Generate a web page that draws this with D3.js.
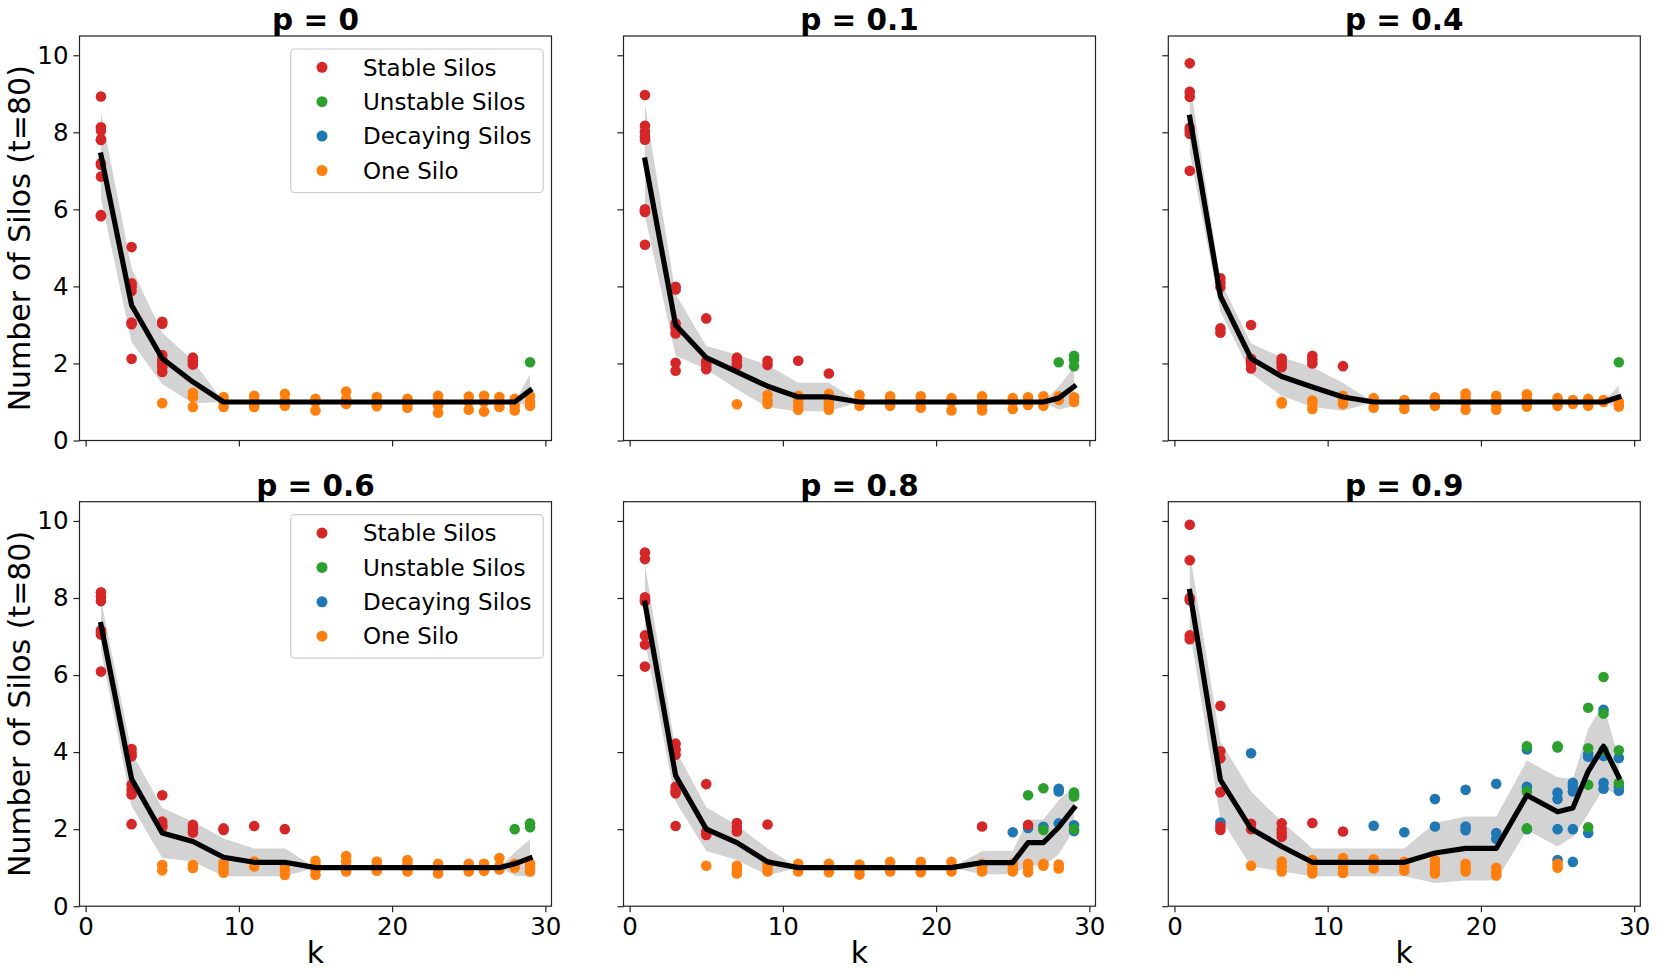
<html>
<head>
<meta charset="utf-8">
<title>Number of Silos</title>
<style>
  body { margin: 0; background: #fff; }
  svg { font-family: "DejaVu Sans", sans-serif; }
</style>
</head>
<body>
<svg width="1658" height="977"></svg>
<script src="https://d3js.org/d3.v7.min.js"></script>
<script>
// k values at which the mean line / band are evaluated
var kValues = [1, 3, 5, 7, 9, 11, 13, 15, 17, 19, 21, 23, 25, 26, 27, 28, 29];
var titles = ["p = 0", "p = 0.1", "p = 0.4", "p = 0.6", "p = 0.8", "p = 0.9"];
var categories = ["Stable Silos", "Unstable Silos", "Decaying Silos", "One Silo"];
var catKeys = ["S", "U", "D", "O"];
var catColors = ["#d62728", "#2ca02c", "#1f77b4", "#ff7f0e"];
var drawOrder = ["D", "O", "S", "U"];
var xTicks = [0, 10, 20, 30];
var yTicks = [0, 2, 4, 6, 8, 10];

// mean and std of the number of silos per k
var meanP0 = [7.41, 3.51, 2.13, 1.52, 1.0, 1.0, 1.0, 1.0, 1.0, 1.0, 1.0, 1.0, 1.0, 1.0, 1.0, 1.0, 1.3];
var sdP0 = [1.12, 0.96, 0.67, 0.55, 0, 0, 0, 0, 0, 0, 0, 0, 0, 0, 0, 0, 0.42];
var meanP01 = [7.28, 3.0, 2.15, 1.78, 1.41, 1.13, 1.13, 1.0, 1.0, 1.0, 1.0, 1.0, 1.0, 1.0, 1.0, 1.1, 1.4];
var sdP01 = [1.45, 0.8, 0.3, 0.45, 0.55, 0.37, 0.37, 0, 0, 0, 0, 0, 0, 0, 0, 0.3, 0.5];
var meanP04 = [8.39, 3.75, 2.13, 1.66, 1.39, 1.13, 1.0, 1.0, 1.0, 1.0, 1.0, 1.0, 1.0, 1.0, 1.0, 1.0, 1.13];
var sdP04 = [0.93, 0.4, 0.39, 0.5, 0.52, 0.36, 0, 0, 0, 0, 0, 0, 0, 0, 0, 0, 0.3];
var meanP06 = [7.31, 3.3, 1.9, 1.68, 1.27, 1.14, 1.14, 1.0, 1.0, 1.0, 1.0, 1.0, 1.0, 1.0, 1.0, 1.1, 1.25];
var sdP06 = [0.65, 0.7, 0.65, 0.52, 0.49, 0.36, 0.36, 0, 0, 0, 0, 0, 0, 0, 0, 0.3, 0.48];
var meanP08 = [7.87, 3.39, 2.0, 1.65, 1.15, 1.0, 1.0, 1.0, 1.0, 1.0, 1.0, 1.13, 1.13, 1.65, 1.65, 2.05, 2.55];
var sdP08 = [1.0, 0.67, 0.57, 0.45, 0.35, 0, 0, 0, 0, 0, 0, 0.3, 0.3, 0.6, 0.6, 0.7, 0.55];
var meanP09 = [8.17, 3.28, 2.01, 1.55, 1.14, 1.14, 1.14, 1.14, 1.38, 1.5, 1.5, 2.88, 2.45, 2.55, 3.5, 4.15, 3.35];
var sdP09 = [1.0, 1.0, 0.97, 0.65, 0.36, 0.36, 0.36, 0.36, 0.78, 0.83, 0.83, 0.9, 0.9, 0.75, 1.1, 1.1, 0.45];

// scatter points: [category, k, values]
var pointsP0 = [
  ["S", 1, [8.93, 8.13, 8.05, 7.82, 7.8, 7.2, 7.15, 6.85, 5.85, 5.82]],
  ["S", 3, [5.02, 4.08, 4.0, 3.88, 3.06, 3.02, 2.12]],
  ["S", 5, [3.08, 3.03, 2.22, 2.1, 2.0, 1.9, 1.78]],
  ["O", 5, [0.97]],
  ["S", 7, [2.15, 2.08, 2.02, 1.97]],
  ["O", 7, [1.24, 1.13, 0.87]],
  ["O", 9, [1.13, 1.0, 0.87]],
  ["O", 11, [1.16, 1.04, 0.92, 0.87]],
  ["O", 13, [1.21, 1.04, 0.9]],
  ["O", 15, [1.08, 1.0, 0.78]],
  ["O", 17, [1.27, 1.08, 0.95]],
  ["O", 19, [1.13, 1.0, 0.89]],
  ["O", 21, [1.08, 0.95, 0.85]],
  ["O", 23, [1.16, 1.04, 0.91, 0.72]],
  ["O", 25, [1.14, 1.0, 0.8]],
  ["O", 26, [1.16, 1.0, 0.75]],
  ["O", 27, [1.13, 1.0, 0.87]],
  ["O", 28, [1.08, 0.91, 0.78]],
  ["O", 29, [1.15, 1.0, 0.9]],
  ["U", 29, [2.03]]
];
var pointsP01 = [
  ["S", 1, [8.97, 8.17, 8.02, 7.9, 7.81, 6.0, 5.95, 5.93, 5.08]],
  ["S", 3, [3.99, 3.92, 3.04, 2.93, 2.78, 2.02, 1.81]],
  ["S", 5, [3.17, 2.06, 2.0, 1.92, 1.85]],
  ["S", 7, [2.15, 2.08, 2.0, 1.95]],
  ["O", 7, [0.94]],
  ["S", 9, [2.07, 1.96]],
  ["O", 9, [1.18, 1.05, 0.95]],
  ["S", 11, [2.07]],
  ["O", 11, [1.16, 1.02, 0.89, 0.8]],
  ["S", 13, [1.74]],
  ["O", 13, [1.21, 1.1, 1.0, 0.9, 0.8]],
  ["O", 15, [1.18, 1.05, 0.9]],
  ["O", 17, [1.15, 1.05, 0.9]],
  ["O", 19, [1.15, 1.0, 0.85]],
  ["O", 21, [1.1, 1.0, 0.78]],
  ["O", 23, [1.15, 1.02, 0.9, 0.78]],
  ["O", 25, [1.1, 1.0, 0.82]],
  ["O", 26, [1.12, 1.02, 0.92]],
  ["O", 27, [1.15, 1.0, 0.9]],
  ["O", 28, [1.15, 1.05]],
  ["U", 28, [2.03]],
  ["O", 29, [1.12, 1.0]],
  ["U", 29, [2.2, 2.1, 1.93]]
];
var pointsP04 = [
  ["S", 1, [9.79, 9.05, 8.92, 8.12, 8.05, 7.96, 7.0]],
  ["S", 3, [4.21, 4.1, 3.98, 2.91, 2.8]],
  ["S", 5, [3.0, 2.12, 2.05, 2.0, 1.87]],
  ["S", 7, [2.13, 2.05, 2.0, 1.9]],
  ["O", 7, [1.0, 0.96]],
  ["S", 9, [2.2, 2.1, 2.0]],
  ["O", 9, [1.04, 0.95, 0.82]],
  ["S", 11, [1.93]],
  ["O", 11, [1.16, 1.05, 0.95]],
  ["O", 13, [1.1, 1.0, 0.85]],
  ["O", 15, [1.05, 0.95, 0.82]],
  ["O", 17, [1.12, 1.0, 0.9]],
  ["O", 19, [1.22, 1.1, 0.98, 0.8]],
  ["O", 21, [1.16, 1.04, 0.92, 0.8]],
  ["O", 23, [1.2, 1.08, 0.96, 0.88]],
  ["O", 25, [1.1, 1.0, 0.9]],
  ["O", 26, [1.05, 0.95]],
  ["O", 27, [1.08, 0.9]],
  ["O", 28, [1.05, 1.0]],
  ["O", 29, [1.0, 0.88]],
  ["U", 29, [2.03]]
];
var pointsP06 = [
  ["S", 1, [8.15, 8.04, 7.92, 7.16, 7.1, 7.05, 6.09]],
  ["S", 3, [4.08, 3.97, 3.89, 3.15, 3.02, 2.9, 2.13]],
  ["S", 5, [2.88, 2.2, 2.1, 2.05]],
  ["O", 5, [1.07, 0.93]],
  ["S", 7, [2.11, 2.02, 1.91]],
  ["O", 7, [1.07, 0.99]],
  ["S", 9, [2.02, 1.98]],
  ["O", 9, [1.12, 1.03, 0.94, 0.87]],
  ["S", 11, [2.08]],
  ["O", 11, [1.16, 1.03]],
  ["S", 13, [2.0]],
  ["O", 13, [1.07, 0.94, 0.81]],
  ["O", 15, [1.18, 1.07, 0.94, 0.81]],
  ["O", 17, [1.3, 1.16, 1.03, 0.9]],
  ["O", 19, [1.16, 1.05, 0.92]],
  ["O", 21, [1.2, 1.1, 1.0, 0.9]],
  ["O", 23, [1.1, 1.0, 0.85]],
  ["O", 25, [1.1, 1.0, 0.9]],
  ["O", 26, [1.1, 1.0, 0.92]],
  ["O", 27, [1.25, 1.05, 0.95]],
  ["O", 28, [1.1, 1.0]],
  ["U", 28, [2.0]],
  ["O", 29, [1.1, 1.0, 0.9]],
  ["U", 29, [2.15, 2.05]]
];
var pointsP08 = [
  ["S", 1, [9.18, 9.01, 8.02, 7.95, 7.91, 7.03, 6.79, 6.22]],
  ["S", 3, [4.22, 4.07, 3.93, 3.1, 3.0, 2.93, 2.08]],
  ["S", 5, [3.17, 1.94, 1.85]],
  ["O", 5, [1.05]],
  ["S", 7, [2.16, 2.04, 1.94]],
  ["O", 7, [1.05, 0.95, 0.85]],
  ["S", 9, [2.12]],
  ["O", 9, [1.1, 1.0, 0.9]],
  ["O", 11, [1.1, 1.0, 0.9]],
  ["O", 13, [1.1, 1.0, 0.88]],
  ["O", 15, [1.08, 0.95, 0.82]],
  ["O", 17, [1.15, 1.02, 0.9]],
  ["O", 19, [1.15, 1.0, 0.88]],
  ["O", 21, [1.15, 1.0, 0.9]],
  ["S", 23, [2.07]],
  ["O", 23, [1.1, 1.0, 0.9]],
  ["D", 25, [1.92]],
  ["O", 25, [1.1, 1.0, 0.9]],
  ["D", 26, [2.03]],
  ["S", 26, [2.11]],
  ["U", 26, [2.88]],
  ["O", 26, [1.1, 1.0, 0.88]],
  ["D", 27, [2.06]],
  ["U", 27, [3.06, 1.98]],
  ["O", 27, [1.1, 1.05]],
  ["D", 28, [3.05, 2.98, 2.15]],
  ["O", 28, [1.08, 0.98]],
  ["D", 29, [2.9, 2.1, 1.95]],
  ["U", 29, [2.95, 2.85, 2.0]]
];
var pointsP09 = [
  ["S", 1, [9.9, 8.98, 8.0, 7.94, 7.03, 6.93]],
  ["D", 3, [2.17]],
  ["S", 3, [5.2, 4.02, 3.84, 2.96, 2.07, 1.98]],
  ["D", 5, [3.97]],
  ["S", 5, [2.14, 2.0]],
  ["O", 5, [1.05]],
  ["S", 7, [2.15, 2.0, 1.9, 1.8]],
  ["O", 7, [1.16, 1.03, 0.9]],
  ["S", 9, [2.16]],
  ["O", 9, [1.2, 1.08, 0.95, 0.85]],
  ["S", 11, [1.94]],
  ["O", 11, [1.25, 1.12, 1.0, 0.86]],
  ["D", 13, [2.09]],
  ["O", 13, [1.22, 1.1, 0.98]],
  ["D", 15, [1.92]],
  ["O", 15, [1.15, 1.05, 0.92]],
  ["D", 17, [2.78, 2.07]],
  ["O", 17, [1.2, 1.08, 0.95, 0.85]],
  ["D", 19, [3.02, 2.07, 1.97]],
  ["O", 19, [1.1, 1.0, 0.9]],
  ["D", 21, [3.18, 1.9, 1.75]],
  ["O", 21, [1.0, 0.88, 0.8]],
  ["D", 23, [4.07, 3.1, 2.0]],
  ["U", 23, [4.15, 2.98, 2.02]],
  ["D", 25, [2.95, 2.78, 2.0, 1.2]],
  ["U", 25, [4.15, 4.12]],
  ["O", 25, [1.1, 1.0]],
  ["D", 26, [3.2, 3.1, 2.98, 2.0, 1.15]],
  ["D", 27, [3.95, 3.88, 1.9]],
  ["U", 27, [5.15, 4.1, 3.15, 2.05]],
  ["D", 28, [5.1, 3.9, 3.2, 3.05]],
  ["U", 28, [5.95, 5.0, 4.05]],
  ["D", 29, [3.85, 3.1, 3.0]],
  ["U", 29, [4.05, 3.2]]
];

var means = [meanP0, meanP01, meanP04, meanP06, meanP08, meanP09];
var sds = [sdP0, sdP01, sdP04, sdP06, sdP08, sdP09];
var points = [pointsP0, pointsP01, pointsP04, pointsP06, pointsP08, pointsP09];

// layout
var colLeft = [79.5, 623.5, 1168.3];
var rowTop = [36, 501.7];
var pw = 472, ph = 404.5;

var svg = d3.select('svg');
svg.append('rect').attr('width', 1658).attr('height', 977).attr('fill', '#fff');

function drawPanel(i) {
    var row = Math.floor(i / 3), col = i % 3;
    var x0 = colLeft[col], y0 = rowTop[row];
    var x = d3.scaleLinear().domain([-0.4, 30.4]).range([x0, x0 + pw]);
    var y = d3.scaleLinear().domain([0, 10.5]).range([y0 + ph, y0]);
    var g = svg.append('g');

    var rows = kValues.map(function (k, j) { return {k: k, m: means[i][j], s: sds[i][j]}; });

    // std band
    var area = d3.area()
        .x(function (d) { return x(d.k); })
        .y0(function (d) { return y(d.m - d.s); })
        .y1(function (d) { return y(d.m + d.s); });
    g.append('path').datum(rows).attr('d', area).attr('fill', '#d3d3d3');

    // scatter
    var flat = [];
    drawOrder.forEach(function (c) {
        points[i].forEach(function (p) {
            if (p[0] !== c) return;
            p[2].forEach(function (v) { flat.push({c: c, k: p[1], v: v}); });
        });
    });
    g.selectAll('circle.pt').data(flat).enter().append('circle')
        .attr('class', 'pt')
        .attr('cx', function (d) { return x(d.k); })
        .attr('cy', function (d) { return y(d.v); })
        .attr('r', 5.3)
        .attr('fill', function (d) { return catColors[catKeys.indexOf(d.c)]; });

    // mean line
    var line = d3.line().x(function (d) { return x(d.k); }).y(function (d) { return y(d.m); });
    g.append('path').datum(rows).attr('d', line)
        .attr('fill', 'none').attr('stroke', '#000').attr('stroke-width', 5.2)
        .attr('stroke-linejoin', 'round').attr('stroke-linecap', 'square');

    // axes
    var xAxis = d3.axisBottom(x).tickValues(xTicks).tickSize(6).tickPadding(5);
    if (row === 0) xAxis.tickFormat('');
    var gx = g.append('g').attr('transform', 'translate(0,' + (y0 + ph) + ')').call(xAxis);
    var yAxis = d3.axisLeft(y).tickValues(yTicks).tickSize(6).tickPadding(5);
    if (col !== 0) yAxis.tickFormat('');
    var gy = g.append('g').attr('transform', 'translate(' + x0 + ',0)').call(yAxis);
    [gx, gy].forEach(function (a) {
        a.select('.domain').remove();
        a.selectAll('line').attr('stroke', '#222').attr('stroke-width', 1.2);
        a.selectAll('text').attr('font-size', '24.5px').attr('fill', '#000')
            .attr('font-family', '"DejaVu Sans", sans-serif');
    });

    // frame
    g.append('rect').attr('x', x0).attr('y', y0).attr('width', pw).attr('height', ph)
        .attr('fill', 'none').attr('stroke', '#222').attr('stroke-width', 1.2);

    // title
    g.append('text').attr('x', x0 + pw / 2).attr('y', y0 - 6)
        .attr('text-anchor', 'middle').attr('font-size', '29.5px').attr('font-weight', 'bold')
        .text(titles[i]);

    if (row === 1) {
        g.append('text').attr('x', x0 + pw / 2).attr('y', 963)
            .attr('text-anchor', 'middle').attr('font-size', '30px').text('k');
    }
    if (col === 0) {
        g.append('text').attr('transform', 'translate(30,' + (y0 + ph / 2) + ') rotate(-90)')
            .attr('text-anchor', 'middle').attr('font-size', '30px').text('Number of Silos (t=80)');

        // legend
        var lg = g.append('g');
        lg.append('rect').attr('x', 290.7).attr('y', y0 + 13).attr('width', 252.5).attr('height', 143.5)
            .attr('rx', 4).attr('fill', '#fff').attr('fill-opacity', 0.8)
            .attr('stroke', '#ccc').attr('stroke-width', 1.2);
        categories.forEach(function (c, j) {
            var cy = y0 + 31.3 + j * 34.4;
            lg.append('circle').attr('cx', 322).attr('cy', cy).attr('r', 5.5).attr('fill', catColors[j]);
            lg.append('text').attr('x', 363).attr('y', cy + 8.2).attr('font-size', '23px').text(c);
        });
    }
}

for (var i = 0; i < 6; i++) drawPanel(i);
</script>
</body>
</html>
